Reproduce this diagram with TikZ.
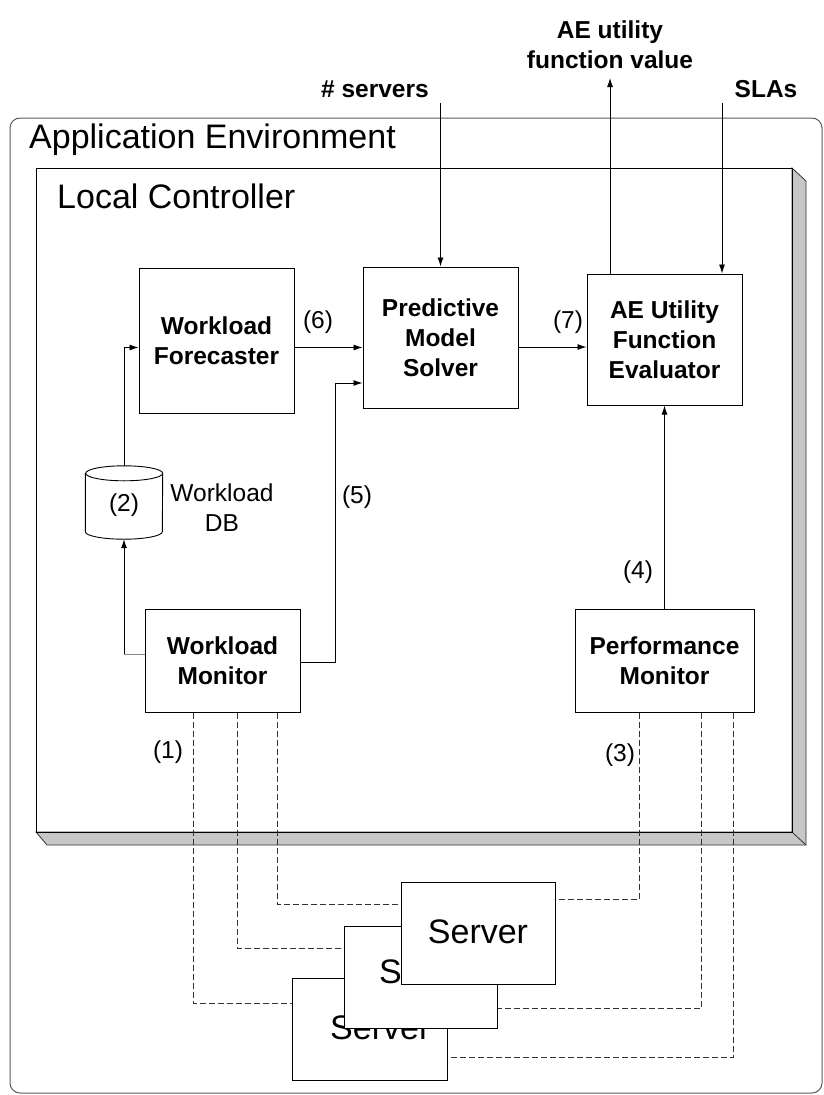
\documentclass[tikz,border=0pt]{standalone}
\usepackage{fontspec}
\setmainfont{Liberation Sans}
\usetikzlibrary{arrows.meta}
\newcommand\myS{\fontsize{24.5}{30}\selectfont}
\newcommand\myB{\fontsize{34}{40}\selectfont}
\begin{document}
\begin{tikzpicture}[x=1pt,y=-1pt,
  box/.style={draw, line width=1pt, fill=white, inner sep=0pt, align=center, font=\myS\bfseries},
  srv/.style={draw, line width=1pt, fill=white, inner sep=0pt, minimum height=102pt, font=\myB},
  srvtxt/.style={font=\myB, inner sep=0pt},
  arr/.style={-{Latex[length=9pt,width=6pt]}, line width=0.9pt},
  conn/.style={line width=0.9pt},
  dsh/.style={dash pattern=on 6pt off 3pt, line width=0.9pt, draw=black!80},
  lbl/.style={font=\myS, inner sep=0pt, align=center},
  hdr/.style={font=\myS\bfseries, inner sep=0pt, align=center}]
\useasboundingbox (0,0) rectangle (823,1095);
% Application Environment
\draw[black!65, line width=1pt, rounded corners=10pt] (10,118) rectangle (822,1093);
\node[anchor=base west, font=\myB, inner sep=0pt] (aetitle) at (29,148) {Application Environment};
% Local Controller with bevel
\filldraw[fill=black!22, draw=black!80, line width=0.8pt] (792,168) -- (806,181) -- (806,845) -- (47,845) -- (36,832) -- (792,832) -- cycle;
\draw[black!80, line width=0.8pt] (792,832) -- (806,845);
\draw[line width=1pt] (36,168) rectangle (792,832);
\node[anchor=base west, font=\myB, inner sep=0pt] (lctitle) at (57,208) {Local Controller};
% boxes
\node[box, minimum width=155pt, minimum height=145pt] (WF) at (216.5,340.5) {Workload\\Forecaster};
\node[box, minimum width=155pt, minimum height=141pt] (PMS) at (440.5,337.5) {Predictive\\Model\\Solver};
\node[box, minimum width=155pt, minimum height=131pt] (AEU) at (664.5,339.5) {AE Utility\\Function\\Evaluator};
\node[box, minimum width=155pt, minimum height=103pt] (WM) at (222.5,660.5) {Workload\\Monitor};
\node[box, minimum width=179pt, minimum height=103pt] (PM) at (664.5,660.5) {Performance\\Monitor};
% database cylinder
\node[inner sep=0pt, minimum width=77pt, minimum height=73pt] (DB) at (124,502.5) {};
\draw[line width=0.9pt, fill=white] ([yshift=-7.5pt]DB.north west) -- ([yshift=7.5pt]DB.south west)
  arc[start angle=180, end angle=360, x radius=38.5pt, y radius=7.5pt]
  -- ([yshift=-7.5pt]DB.north east)
  arc[start angle=0, end angle=180, x radius=38.5pt, y radius=7.5pt]
  arc[start angle=180, end angle=360, x radius=38.5pt, y radius=7.5pt];
\node[lbl] (l2) at (124,505) {(2)};
\node[lbl] (dbl) at (222,508) {Workload\\DB};
% external texts
\node[hdr] (aeval) at (610,45) {AE utility\\function value};
\node[hdr, anchor=base] (nsrv) at (375,97) {\# servers};
\node[hdr, anchor=base] (slas) at (766,97) {SLAs};
\coordinate (srvin) at (440.5,103);
\coordinate (aeout) at (610,78);
\coordinate (slain) at (722,103);
% connectors
\draw[arr] (srvin) -- (PMS.north);
\draw[arr] ([xshift=-54.5pt]AEU.north) -- (aeout);
\draw[arr] (slain) -- ([xshift=57.5pt]AEU.north);
\draw[arr] ([yshift=-7pt]WF.east) -- ([yshift=-7pt]WF.east -| PMS.west);
\draw[arr] ([yshift=-9.5pt]PMS.east) -- ([yshift=-9.5pt]PMS.east -| AEU.west);
\draw[arr] ([yshift=-1.5pt]WM.east) -- ++(35,0) |- ([yshift=-45.5pt]PMS.west);
\draw[arr] (DB.north) |- ([yshift=-7pt]WF.west);
\draw[conn, black!45] ([yshift=6.5pt]WM.west) -- ([yshift=6.5pt]WM.west -| DB.south);
\draw[arr] ([yshift=6.5pt]WM.west -| DB.south) -- (DB.south);
\draw[arr] (PM.north) -- (PM.north |- AEU.south);
% labels
\node[lbl] (l6) at (318,322) {(6)};
\node[lbl] (l7) at (568,322) {(7)};
\node[lbl] (l5) at (357,497) {(5)};
\node[lbl] (l4) at (638,572) {(4)};
\node[lbl] (l1) at (168,752) {(1)};
\node[lbl] (l3) at (620,755) {(3)};
% dashed connections
\draw[dsh] ([xshift=54.5pt]WM.south) |- (401,904) coordinate (dA);
\draw[dsh] ([xshift=14.5pt]WM.south) |- (344,948) coordinate (dB);
\draw[dsh] ([xshift=-29.5pt]WM.south) |- (292,1003) coordinate (dC);
\draw[dsh] ([xshift=-25.5pt]PM.south) |- (555,899) coordinate (dD);
\draw[dsh] ([xshift=36.5pt]PM.south) |- (497,1008) coordinate (dE);
\draw[dsh] ([xshift=68.5pt]PM.south) |- (447,1057) coordinate (dF);
% servers: box first, then its text, then the next box covers it
\node[srv, minimum width=155pt] (SB) at (369.5,1029) {};
\node[srvtxt, anchor=base west] (tB) at (330,1039) {Server};
\node[srv, minimum width=153pt] (SM) at (420.5,977) {};
\node[srvtxt, anchor=base west] (tM) at (379,983) {Server};
\node[srv, minimum width=154pt] (SF) at (478,933) {};
\node[srvtxt, anchor=base] (tF) at (478,943) {Server};
\end{tikzpicture}
\end{document}
